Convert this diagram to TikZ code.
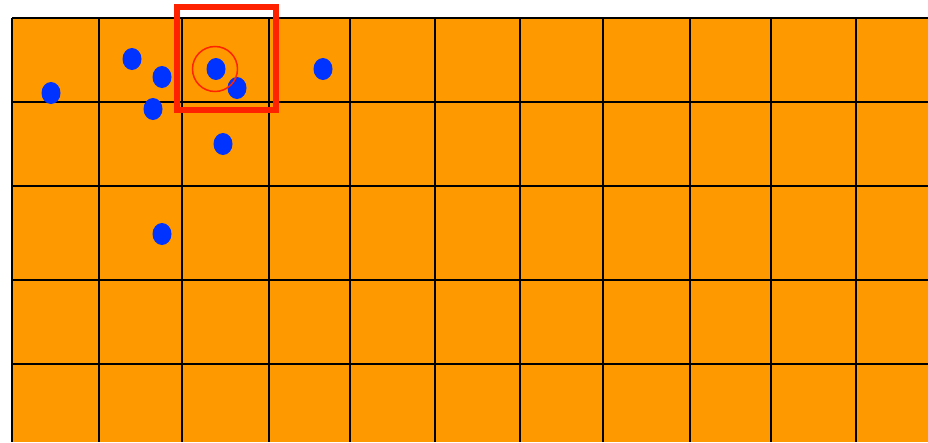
\documentclass[tikz,border=0pt]{standalone}
\definecolor{gridorange}{HTML}{FF9900}
\definecolor{dotblue}{HTML}{0033FF}
\definecolor{markred}{HTML}{FF2200}
\tikzset{
  gridline/.style={black, line width=2pt},
  dotmark/.style={fill=dotblue, draw=none},
}
\begin{document}
\begin{tikzpicture}[x=1pt,y=-1pt]
  \useasboundingbox (0,0) rectangle (928,442);
  \fill[gridorange] (12,18) rectangle (928,442);
  \foreach \x in {12,99,182,269,350,435,520,603,690,771,856}
    \draw[gridline] (\x,18) -- (\x,442);
  \foreach \y in {18,102,186,280,364}
    \draw[gridline] (12,\y) -- (928,\y);
  \foreach \p in {(51,93),(132,59),(162,77),(153,109),(216,69),(237,88),(323,69),(223,144),(162,234)}
    \fill[dotmark] \p ellipse [x radius=9.5, y radius=11];
  \draw[markred, line width=1.5pt] (215,69) circle [radius=22.5];
  \draw[markred, line width=6pt] (177.3,7.3) rectangle (276.3,110.3);
\end{tikzpicture}
\end{document}
